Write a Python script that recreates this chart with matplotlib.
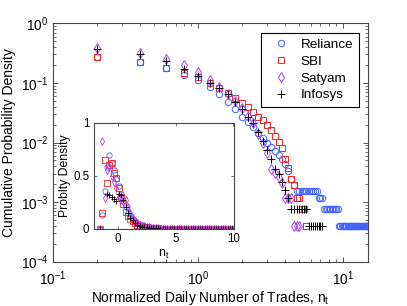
#!/usr/bin/env python3
"""Cumulative distribution of normalized daily number of trades, with pdf inset."""

import matplotlib
import numpy as np

matplotlib.use("Agg")
import matplotlib.pyplot as plt
from matplotlib.ticker import FixedLocator, LogLocator, NullFormatter

plt.rcParams["font.family"] = ["Liberation Sans", "DejaVu Sans"]
plt.rcParams["mathtext.default"] = "regular"

# ---- main panel: cumulative density, bins of width 0.2 ----
BIN = 0.2
rel_cum = [0.275, 0.227, 0.18, 0.138, 0.113, 0.087, 0.064, 0.048, 0.036, 0.027,
           0.0222, 0.0183, 0.0142, 0.0118, 0.0099, 0.0084, 0.0071, 0.0062, 0.0052,
           0.0043, 0.0033, 0.0024, 0.0019] \
    + [0.00155] * 10 + [0.00116] * 3 + [0.00078] * 10 + [0.00039] * 29
sbi_cum = [0.27, 0.225, 0.178, 0.147, 0.125, 0.099, 0.081, 0.067, 0.056, 0.046,
           0.039, 0.033, 0.0272, 0.0235, 0.0198, 0.016, 0.0128, 0.0102, 0.0082,
           0.0052, 0.0037, 0.0024, 0.00195, 0.00116, 0.00116, 0.00078, 0.00078,
           0.00039]
sat_cum = [0.38, 0.315, 0.25, 0.20, 0.152, 0.114, 0.087, 0.066, 0.05, 0.038,
           0.028, 0.021, 0.014, 0.0097, 0.0066, 0.0036, 0.0031, 0.0026, 0.0021,
           0.00116, 0.00116, 0.00116, 0.00039, 0.00039, 0.00039]
inf_cum = [0.366, 0.30, 0.236, 0.174, 0.13, 0.099, 0.083, 0.064, 0.048, 0.036,
           0.0265, 0.021, 0.015, 0.0108, 0.0076, 0.0053, 0.0036, 0.003, 0.0022,
           0.0016, 0.00116] + [0.00078] * 7 + [0.00039] * 8

# ---- inset: probability density vs n_t ----
inset_x = [-1.5, -1.3, -1.1, -0.9, -0.7, -0.5, -0.3, -0.1, 0.1, 0.3, 0.5, 0.7,
           0.9, 1.1, 1.3, 1.5, 1.7, 1.9, 2.1, 2.3, 2.5, 2.7, 2.9, 3.1, 3.3, 3.5] \
    + [3.7 + 0.2 * k for k in range(32)]
rel_pdf = [0, 0.13, 0.35, 0.58, 0.69, 0.62, 0.55, 0.47, 0.40, 0.33, 0.26, 0.20,
           0.15, 0.12, 0.09, 0.07, 0.05, 0.04, 0.03, 0.02, 0.015, 0.01, 0.008,
           0.006, 0.005, 0.004] + [0.0] * 32
sbi_pdf = [0, 0.15, 0.65, 0.43, 0.60, 0.62, 0.52, 0.48, 0.38, 0.30, 0.23, 0.16,
           0.12, 0.09, 0.07, 0.05, 0.035, 0.025, 0.02, 0.015, 0.01, 0.008, 0.006,
           0.005, 0.004, 0.003] + [0.0] * 32
sat_pdf = [0, 0.83, 0.29, 0.55, 0.58, 0.50, 0.44, 0.38, 0.30, 0.28, 0.25, 0.27,
           0.20, 0.15, 0.10, 0.07, 0.05, 0.035, 0.025, 0.02, 0.015, 0.01, 0.008,
           0.006, 0.005, 0.004] + [0.0] * 32
inf_pdf = [0, np.nan, np.nan, 0.33, 0.32, 0.30, 0.28, 0.26, 0.33, 0.32, 0.27,
           0.20, 0.15, 0.10, 0.08, 0.05, 0.035, 0.025, 0.018, 0.013, 0.01, 0.008,
           0.006, 0.005, 0.004, 0.003] + [0.0] * 32

NAMES = ["Reliance", "SBI", "Satyam", "Infosys"]
MARKERS = ["o", "s", "d", "+"]
COLORS = ["#3f62ff", "#ff2020", "#b040ff", "black"]

W, H = 407, 306


def bins(n):
    return BIN * np.arange(1, n + 1)


def main():
    fig = plt.figure(figsize=(W / 100, H / 100), dpi=100)
    ax = fig.add_axes([53.3 / W, 1 - 261.7 / H, 315 / W, 238.4 / H])

    for ys, nm, mk, c in zip([rel_cum, sbi_cum, sat_cum, inf_cum], NAMES, MARKERS, COLORS):
        ax.plot(bins(len(ys)), ys, ls="none", marker=mk, ms=4.6 if mk != "+" else 5.2,
                mfc="none", mec=c, mew=0.7, label=nm, snap=False)

    ax.set_xscale("log")
    ax.set_yscale("log")
    ax.set_xlim(0.1, 15)
    ax.set_ylim(1e-4, 1)
    ax.yaxis.set_major_locator(LogLocator(base=10, numticks=10))
    ax.tick_params(which="both", direction="in", top=True, right=True,
                   labelsize=9.8, colors="#333333", labelcolor="black")
    ax.tick_params(which="major", length=3.5, width=0.6)
    ax.tick_params(which="minor", length=2, width=0.5)
    ax.tick_params(axis="x", pad=5.5)
    for s in ax.spines.values():
        s.set_color("#444444")
        s.set_linewidth(0.8)
    ax.set_xlabel(r"Normalized Daily Number of Trades, $n_t$", fontsize=9.9, labelpad=0.5)
    ax.set_ylabel("Cumulative Probability Density", fontsize=10, labelpad=3)

    leg = ax.legend(loc="upper right", fontsize=9.7, fancybox=False, framealpha=1,
                    edgecolor="black", borderaxespad=0.7, handlelength=2.0,
                    handletextpad=0.5, labelspacing=0.33, borderpad=0.42, numpoints=1)
    leg.get_frame().set_linewidth(0.8)
    for h in leg.legend_handles:
        h.set_snap(False)

    # inset
    axi = fig.add_axes([94.3 / W, 1 - 228.5 / H, 139.2 / W, 106 / H])
    for ys, mk, c in zip([rel_pdf, sbi_pdf, sat_pdf, inf_pdf], MARKERS, COLORS):
        axi.plot(inset_x, ys, ls="none", marker=mk, ms=3.8 if mk != "+" else 4.4,
                 mfc="none", mec=c, mew=0.6, snap=False)
    axi.set_xlim(-2, 10)
    axi.set_ylim(0, 1)
    axi.xaxis.set_major_locator(FixedLocator([0, 5, 10]))
    axi.yaxis.set_major_locator(FixedLocator([0, 0.5, 1]))
    axi.yaxis.set_minor_formatter(NullFormatter())
    axi.set_yticklabels(["0", "0.5", "1"])
    axi.tick_params(direction="in", top=True, right=True, labelsize=8.3, length=2.5,
                    width=0.5, colors="#333333", labelcolor="black")
    for s in axi.spines.values():
        s.set_color("#444444")
        s.set_linewidth(0.8)
    axi.set_xlabel(r"$n_t$", fontsize=9, labelpad=2)
    axi.set_ylabel("Problty Density", fontsize=8.8, labelpad=2)

    fig.savefig("out.png", dpi=100)
    plt.close(fig)


if __name__ == "__main__":
    main()
